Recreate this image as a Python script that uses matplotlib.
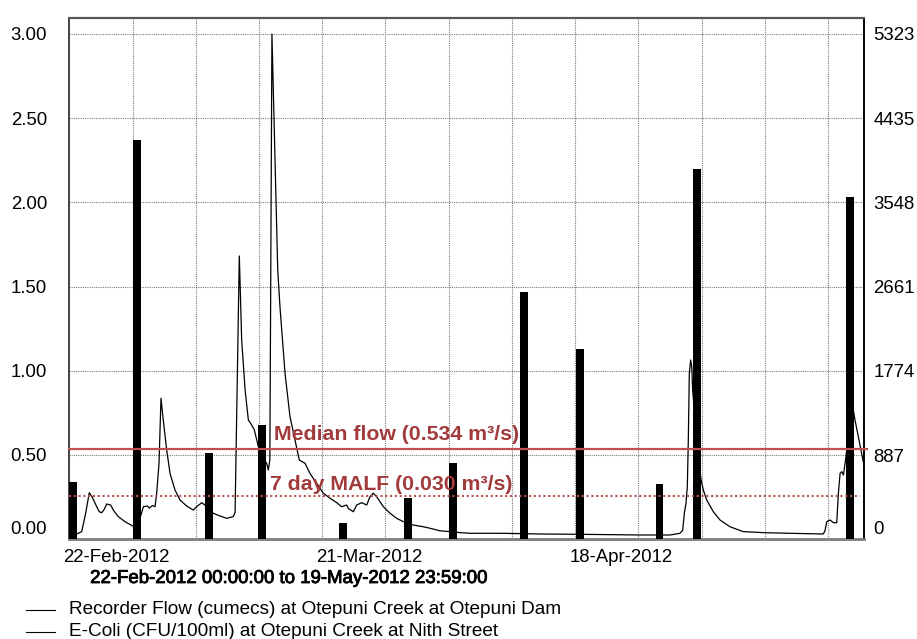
import numpy as np
import matplotlib
matplotlib.use("Agg")
import matplotlib.pyplot as plt
import matplotlib.dates as mdates
from matplotlib.lines import Line2D
from matplotlib.transforms import ScaledTranslation, blended_transform_factory
import matplotlib.patheffects as pe
from datetime import datetime, timedelta

plt.rcParams['font.family'] = ['Liberation Sans', 'DejaVu Sans']

# ---------------- data ----------------
start = datetime(2012, 2, 22)
end = datetime(2012, 5, 20)

# Recorder flow (cumecs): days since 22-Feb-2012 00:00 and value
flow_day = [0.0, 0.5, 0.82, 1.37, 1.8, 2.21, 2.55, 3.03, 3.32, 3.58, 3.9, 4.14, 4.58, 4.87,
            5.42, 6.17, 6.98, 7.3, 7.94, 8.2, 8.64, 8.86, 9.2, 9.49, 9.67, 9.93, 10.15,
            10.4, 10.78, 11.15, 11.7, 12.25, 12.99, 13.73, 14.1, 14.66, 15.0, 15.94, 16.68,
            17.42, 18.16, 18.35, 18.82, 19.08, 19.46, 19.82, 20.19, 20.48, 20.74, 20.93,
            21.4, 21.85, 22.03, 22.2, 22.43, 23.07, 23.32, 23.88, 24.43, 24.98, 25.46,
            26.09, 26.64, 27.38, 28.12, 28.86, 29.6, 30.15, 30.7, 30.88, 31.44, 31.81,
            32.36, 32.92, 33.28, 33.65, 34.02, 34.76, 35.5, 36.24, 36.97, 38.08, 39.19,
            39.93, 41.03, 42.14, 43.25, 44.36, 48.0, 52.1, 56.5, 63.2, 66.5, 67.6, 67.9,
            68.08, 68.26, 68.41, 68.52, 68.63, 68.78, 68.9, 69.0, 69.5, 69.93, 70.18,
            70.55, 71.29, 72.03, 73.13, 74.6, 76.8, 79.78, 83.46, 83.65, 83.84, 84.21,
            84.58, 84.95, 85.13, 85.32, 85.5, 85.69, 85.87, 86.06, 86.5, 86.79, 86.97,
            87.34, 87.71, 87.97, 88.0]
flow_cumecs = [0.02, 0.02, 0.031, 0.045, 0.15, 0.276, 0.249, 0.193, 0.163, 0.157, 0.18, 0.209,
               0.203, 0.173, 0.134, 0.104, 0.08, 0.07, 0.144, 0.193, 0.197, 0.185, 0.2, 0.193,
               0.272, 0.45, 0.837, 0.708, 0.53, 0.391, 0.292, 0.233, 0.197, 0.173, 0.193,
               0.217, 0.203, 0.154, 0.138, 0.124, 0.134, 0.16, 1.682, 1.183, 0.886, 0.708,
               0.678, 0.649, 0.592, 0.549, 0.48, 0.451, 0.411, 0.47, 3.0, 1.6, 1.38, 0.985,
               0.727, 0.589, 0.47, 0.451, 0.391, 0.332, 0.273, 0.243, 0.217, 0.193, 0.203,
               0.183, 0.163, 0.203, 0.217, 0.203, 0.252, 0.273, 0.252, 0.193, 0.154, 0.124,
               0.104, 0.084, 0.074, 0.065, 0.05, 0.045, 0.039, 0.035, 0.035, 0.031, 0.029,
               0.025, 0.025, 0.035, 0.054, 0.154, 0.213, 0.312, 0.589, 0.985, 1.064, 1.024,
               0.886, 0.55, 0.352, 0.292, 0.233, 0.163, 0.114, 0.074, 0.045, 0.039, 0.035,
               0.031, 0.05, 0.104, 0.114, 0.098, 0.098, 0.272, 0.391, 0.401, 0.381, 0.451,
               0.53, 0.78, 0.767, 0.708, 0.609, 0.51, 0.44, 0.43]

# E-Coli samples (CFU/100ml): days since 22-Feb-2012 00:00 and value
ecoli_day = [0.44, 7.46, 15.45, 21.37, 30.28, 37.49, 42.46, 50.37, 56.52, 65.33, 69.50, 86.44]
ecoli_cfu = [605, 4203, 905, 1203, 168, 431, 806, 2605, 2004, 578, 3901, 3602]

median_flow = 0.534
malf_level = 0.257
median_label = "Median flow (0.534 m³/s)"
malf_label = "7 day MALF (0.030 m³/s)"

left_ticks = [0.0, 0.5, 1.0, 1.5, 2.0, 2.5, 3.0]
right_ticks = [0, 887, 1774, 2661, 3548, 4435, 5323]
date_label_weeks = {0: "22-Feb-2012", 4: "21-Mar-2012", 8: "18-Apr-2012"}
period_text = "22-Feb-2012 00:00:00 to 19-May-2012 23:59:00"
legend_labels = ["Recorder Flow (cumecs) at Otepuni Creek at Otepuni Dam",
                 "E-Coli (CFU/100ml) at Otepuni Creek at Nith Street"]

# ---------------- figure ----------------
fs = 13.4
fig = plt.figure(figsize=(9.17, 6.39), dpi=100)
ax = fig.add_axes([69.3 / 917, 1 - 539.2 / 639, 795 / 917, 521.2 / 639])
ax2 = ax.twinx()

flow_x = [mdates.date2num(start + timedelta(days=d)) for d in flow_day]
ecoli_x = [mdates.date2num(start + timedelta(days=d)) for d in ecoli_day]

ytop = 3.095
ax.set_ylim(0, ytop)
ax2.set_ylim(0, ytop * right_ticks[-1] / left_ticks[-1])
ax.set_xlim(mdates.date2num(start), mdates.date2num(end))

ax.plot(flow_x, flow_cumecs, color='black', lw=0.9, zorder=3)
ax2.bar(ecoli_x, ecoli_cfu, width=0.88, color='black', zorder=3)

# reference lines (drawn above bars)
tr = blended_transform_factory(ax2.transAxes, ax.transData)
ax2.plot([0, 1.003], [median_flow, median_flow], transform=tr, color='#c0504d',
         lw=1.6, clip_on=False, zorder=4)
ax2.plot([0, 0.995], [malf_level, malf_level], transform=tr, color='#c0504d',
         lw=1.5, ls=(0, (1, 1.3)), zorder=4)
ax2.text(0.2575, 0.589, median_label, transform=tr, color='#a23a3b', fontsize=15.3,
         fontweight='bold', va='baseline', ha='left', zorder=5)
ax2.text(0.2525, 0.292, malf_label, transform=tr, color='#a23a3b', fontsize=15.3,
         fontweight='bold', va='baseline', ha='left', zorder=5)

# grid / ticks
week_ticks = [mdates.date2num(start + timedelta(days=7 * k)) for k in range(13)]
ax.set_xticks(week_ticks)
ax.set_xticklabels([date_label_weeks.get(k, "") for k in range(13)], fontsize=fs, ha='left')
ax.set_yticks(left_ticks)
ax.set_yticklabels(["%.2f" % v for v in left_ticks], fontsize=fs)
ax2.set_yticks(right_ticks)
ax2.set_yticklabels([str(v) for v in right_ticks], fontsize=fs)
ax.grid(True, color='#7a7a7a', lw=0.8, ls=(0, (1, 1)))
ax.set_axisbelow(True)

ax.tick_params(axis='y', length=0, pad=16)
ax.tick_params(axis='x', length=0, pad=7)
ax2.tick_params(axis='y', length=0, pad=6.5)

# shift date labels slightly left of their gridline, lift the zero labels
for lab in ax.get_xticklabels():
    lab.set_transform(lab.get_transform() + ScaledTranslation(-0.058, 0, fig.dpi_scale_trans))
off = ScaledTranslation(0, 0.12, fig.dpi_scale_trans)
for a in (ax, ax2):
    lab0 = a.get_yticklabels()[0]
    lab0.set_transform(lab0.get_transform() + off)

for a in (ax, ax2):
    a.spines['top'].set_color('#555555')
    a.spines['top'].set_linewidth(1.5)
    a.spines['left'].set_color('#444444')
    a.spines['left'].set_linewidth(1.2)
    a.spines['bottom'].set_color('#808080')
    a.spines['bottom'].set_linewidth(1.8)
    a.spines['right'].set_color('black')
    a.spines['right'].set_linewidth(1.2)

# period text
fig.text(289 / 917, 1 - 578.5 / 639, period_text, ha='center', va='center', fontsize=fs,
         path_effects=[pe.withStroke(linewidth=0.6, foreground='black')])

# legend
for i, lab in enumerate(legend_labels):
    yy = 1 - (610 + 22 * i) / 639
    fig.add_artist(Line2D([26 / 917, 55 / 917], [yy, yy], transform=fig.transFigure,
                          color='black', lw=0.8))
    fig.text(69.3 / 917, yy, lab, ha='left', va='center', fontsize=13.7)

fig.savefig("out.png", dpi=100)
